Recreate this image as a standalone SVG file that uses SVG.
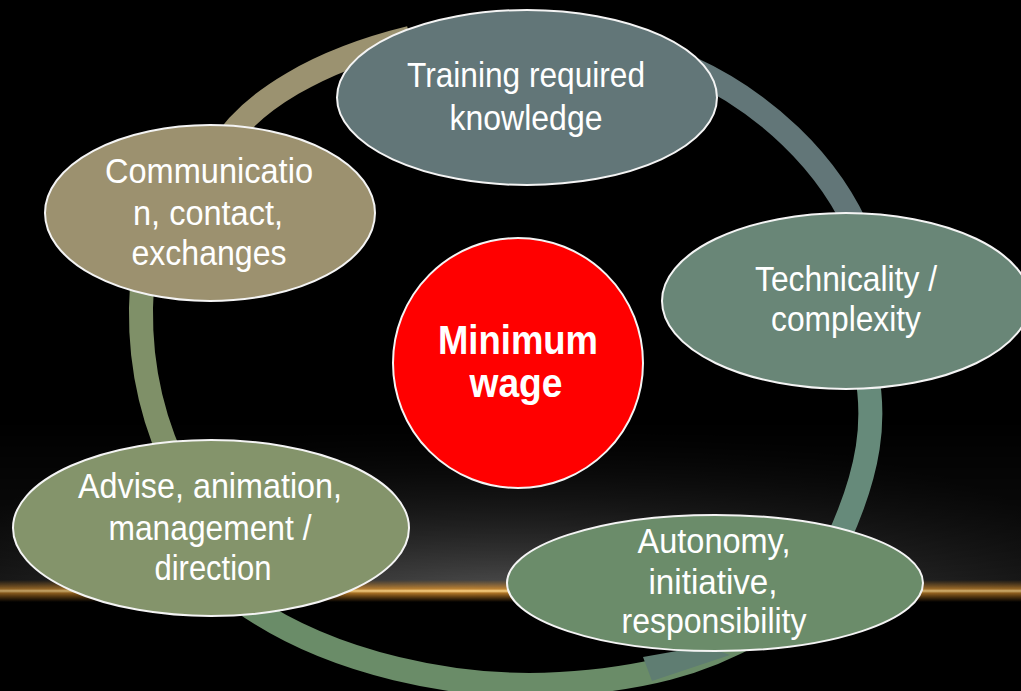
<svg xmlns="http://www.w3.org/2000/svg" width="1021" height="691" viewBox="0 0 1021 691">
<defs>
<radialGradient id="glow" cx="510" cy="592" r="600" gradientUnits="userSpaceOnUse" gradientTransform="translate(0 592) scale(1 0.28) translate(0 -592)">
<stop offset="0" stop-color="#4e4e4e"/>
<stop offset="0.55" stop-color="#2a2a2a"/>
<stop offset="1" stop-color="#101010"/>
</radialGradient>
<linearGradient id="gold" x1="0" y1="580" x2="0" y2="602" gradientUnits="userSpaceOnUse">
<stop offset="0" stop-color="#c07a20" stop-opacity="0"/>
<stop offset="0.4" stop-color="#d8902e" stop-opacity="0.8"/>
<stop offset="0.5" stop-color="#ffd88a"/>
<stop offset="0.6" stop-color="#d8902e" stop-opacity="0.8"/>
<stop offset="1" stop-color="#c07a20" stop-opacity="0"/>
</linearGradient>
<linearGradient id="fadeTop" x1="0" y1="420" x2="0" y2="591" gradientUnits="userSpaceOnUse">
<stop offset="0" stop-color="#fff" stop-opacity="0"/>
<stop offset="1" stop-color="#fff" stop-opacity="1"/>
</linearGradient>
<mask id="fm"><rect x="0" y="420" width="1021" height="171" fill="url(#fadeTop)"/></mask>
<linearGradient id="goldfade" x1="0" y1="0" x2="1021" y2="0" gradientUnits="userSpaceOnUse">
<stop offset="0" stop-color="#fff" stop-opacity="0.75"/>
<stop offset="0.45" stop-color="#fff" stop-opacity="1"/>
<stop offset="1" stop-color="#fff" stop-opacity="0.8"/>
</linearGradient>
<mask id="gm"><rect x="0" y="570" width="1021" height="40" fill="url(#goldfade)"/></mask>
</defs>
<style>
.node ellipse, .node circle { stroke: #f4f4f4; stroke-width: 2; }
.lbl { font-family: "Liberation Sans", Arial, sans-serif; font-size: 35px; fill: #ffffff; text-anchor: middle; }
.ctr { font-family: "Liberation Sans", Arial, sans-serif; font-size: 40px; font-weight: bold; fill: #ffffff; text-anchor: middle; }
.arc { fill: none; stroke-width: 24; stroke-linecap: butt; }
</style>
<rect width="1021" height="691" fill="#000"/>
<rect x="0" y="420" width="1021" height="171" fill="url(#glow)" mask="url(#fm)"/>
<rect x="0" y="580" width="1021" height="22" fill="url(#gold)" mask="url(#gm)"/>
<g id="connectors">
<path class="arc" stroke="#9b9270" d="M 220 150 C 250 100, 320 60, 410 38"/>
<path class="arc" stroke="#627678" d="M 690 68 C 760 100, 830 160, 862 240"/>
<path class="arc" stroke="#668a7a" d="M 866 370 C 876 420, 870 470, 838 540"/>
<path class="arc" stroke="#6a8c68" d="M 240 600 C 330 665, 460 690, 560 684 C 640 679, 700 665, 760 630"/>
<polygon fill="#5f7d72" points="643,657 652,681 730,655 705,646"/>
<path class="arc" stroke="#7f9068" d="M 142 285 C 138 340, 145 400, 172 460"/>
</g>
<g id="node-training" class="node">
<ellipse cx="527" cy="97.5" rx="190" ry="87.5" fill="#627678"/>
<text class="lbl"><tspan x="526" y="87" textLength="238" lengthAdjust="spacingAndGlyphs">Training required</tspan><tspan x="526" y="130" textLength="153" lengthAdjust="spacingAndGlyphs">knowledge</tspan></text>
</g>
<g id="node-technicality" class="node">
<ellipse cx="846" cy="301" rx="184" ry="88" fill="#698677"/>
<text class="lbl"><tspan x="846" y="291" textLength="182" lengthAdjust="spacingAndGlyphs">Technicality /</tspan><tspan x="846" y="331" textLength="150" lengthAdjust="spacingAndGlyphs">complexity</tspan></text>
</g>
<g id="node-autonomy" class="node">
<ellipse cx="715" cy="583" rx="208" ry="68" fill="#6b8c6a"/>
<text class="lbl"><tspan x="714" y="553" textLength="153" lengthAdjust="spacingAndGlyphs">Autonomy,</tspan><tspan x="713" y="594" textLength="129" lengthAdjust="spacingAndGlyphs">initiative,</tspan><tspan x="714" y="633" textLength="185" lengthAdjust="spacingAndGlyphs">responsibility</tspan></text>
</g>
<g id="node-advise" class="node">
<ellipse cx="211" cy="528" rx="198" ry="88" fill="#84946b"/>
<text class="lbl"><tspan x="210" y="498" textLength="264" lengthAdjust="spacingAndGlyphs">Advise, animation,</tspan><tspan x="210" y="540" textLength="203" lengthAdjust="spacingAndGlyphs">management /</tspan><tspan x="213" y="580" textLength="117" lengthAdjust="spacingAndGlyphs">direction</tspan></text>
</g>
<g id="node-communication" class="node">
<ellipse cx="210" cy="213" rx="165" ry="88" fill="#9c916f"/>
<text class="lbl"><tspan x="209" y="183" textLength="208" lengthAdjust="spacingAndGlyphs">Communicatio</tspan><tspan x="208" y="225" textLength="150" lengthAdjust="spacingAndGlyphs">n, contact,</tspan><tspan x="209" y="265" textLength="155" lengthAdjust="spacingAndGlyphs">exchanges</tspan></text>
</g>
<g id="node-center" class="node">
<circle cx="518" cy="363" r="125" fill="#ff0000"/>
<text class="ctr"><tspan x="518" y="354" textLength="160" lengthAdjust="spacingAndGlyphs">Minimum</tspan><tspan x="516" y="397" textLength="93" lengthAdjust="spacingAndGlyphs">wage</tspan></text>
</g>
</svg>
